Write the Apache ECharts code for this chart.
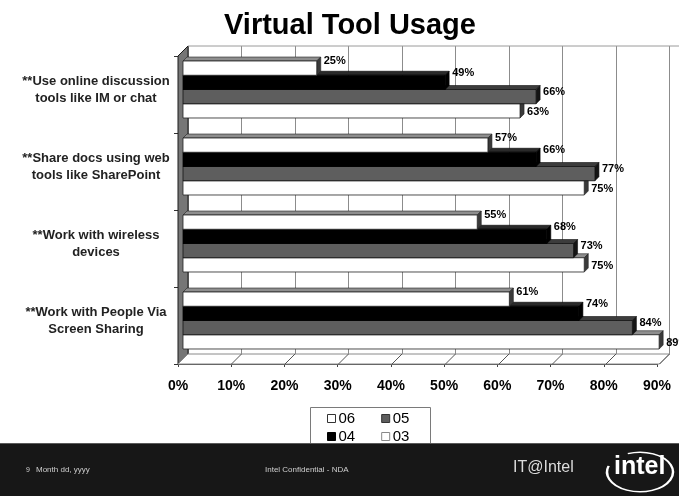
<!DOCTYPE html>
<html>
<head>
<meta charset="utf-8">
<script src="https://cdn.jsdelivr.net/npm/echarts@6/dist/echarts.min.js"></script>
<style>
  html, body { margin: 0; padding: 0; background: #fff; }
  #chart { width: 679px; height: 496px; }
</style>
</head>
<body>
<div id="chart"></div>
<script>
// Survey categories, top to bottom
const categories = [
  '**Use online discussion\ntools like IM or chat',
  '**Share docs using web\ntools like SharePoint',
  '**Work with wireless\ndevices',
  '**Work with People Via\nScreen Sharing'
];
// Survey years (legend order)
const years = ['06', '05', '04', '03'];
// Share of respondents (%) per year
const values06 = [63, 75, 75, 89];
const values05 = [66, 77, 73, 84];
const values04 = [49, 66, 68, 74];
const values03 = [25, 57, 55, 61];
// Value axis ticks (%)
const xTicks = [0, 10, 20, 30, 40, 50, 60, 70, 80, 90];

const FONT = 'Liberation Sans, Arial, sans-serif';
const DEPTH = 4;          // 3D offset of each bar
const WALL = 5;           // half depth of the wall / floor
const BAR_FRACTION = 0.185;

// face colours per year
const faces = {
  '06': { front: '#ffffff', top: '#8e8e8e', side: '#3a3a3a', edge: '#222', legendBorder: '#333', labelDy: 8 },
  '05': { front: '#5e5e5e', top: '#3c3c3c', side: '#151515', edge: '#111', legendBorder: '#333', labelDy: 2 },
  '04': { front: '#000000', top: '#2a2a2a', side: '#000000', edge: '#000', legendBorder: '#000', labelDy: -2 },
  '03': { front: '#ffffff', top: '#8e8e8e', side: '#3a3a3a', edge: '#222', legendBorder: '#888', labelDy: 0 }
};
// vertical slot of each year inside a category (0 = top)
const slots = { '03': 0, '04': 1, '05': 2, '06': 3 };
const seriesValues = { '06': values06, '05': values05, '04': values04, '03': values03 };

function makeBarRenderer(year) {
  const f = faces[year];
  const slot = slots[year];
  return function (params, api) {
    const v = api.value(0);
    const cat = api.value(1);
    const start = api.coord([0, cat]);
    const end = api.coord([v, cat]);
    const band = api.size([0, 1])[1];
    const h = band * BAR_FRACTION;
    const yTop = start[1] - 2 * h + slot * h;
    const x0 = start[0], x1 = end[0], d = DEPTH;
    return {
      type: 'group',
      children: [
        { type: 'polygon',
          shape: { points: [[x0, yTop], [x0 + d, yTop - d], [x1 + d, yTop - d], [x1, yTop]] },
          style: { fill: f.top, stroke: f.edge, lineWidth: 0.6 } },
        { type: 'polygon',
          shape: { points: [[x1, yTop], [x1 + d, yTop - d], [x1 + d, yTop + h - d], [x1, yTop + h]] },
          style: { fill: f.side, stroke: f.edge, lineWidth: 0.6 } },
        { type: 'rect',
          shape: { x: x0, y: yTop, width: x1 - x0, height: h },
          style: { fill: f.front, stroke: f.edge, lineWidth: 0.8 } },
        { type: 'text', z2: 10,
          x: x1 + d + 3, y: yTop + f.labelDy,
          style: { text: v + '%', fill: '#000', fontFamily: FONT, fontWeight: 'bold',
                   fontSize: 11, align: 'left', verticalAlign: 'middle' } }
      ]
    };
  };
}

// left wall, floor and floor grid of the 3D box
function renderBox(params, api) {
  const cs = params.coordSys;
  const top = cs.y, bot = cs.y + cs.height;
  const x0 = api.coord([0, 0])[0];
  const xMax = api.coord([xTicks[xTicks.length - 1], 0])[0];
  const w = WALL;
  const children = [
    { type: 'polygon',
      shape: { points: [[x0 - w, top + w], [x0 + w, top - w], [x0 + w, bot - w], [x0 - w, bot + w]] },
      style: { fill: '#767676', stroke: '#1a1a1a', lineWidth: 1 } },
    { type: 'polygon',
      shape: { points: [[x0 - w, bot + w], [x0 + w, bot - w], [xMax + w, bot - w], [xMax - w, bot + w]] },
      style: { fill: '#ffffff', stroke: '#8a8a8a', lineWidth: 1 } },
    { type: 'line',
      shape: { x1: x0 + w, y1: top - w, x2: cs.x + cs.width + 40, y2: top - w },
      style: { stroke: '#9a9a9a', lineWidth: 1 } }
  ];
  xTicks.slice(1).forEach(function (t) {
    const x = api.coord([t, 0])[0];
    children.push({ type: 'line',
      shape: { x1: x - w, y1: bot + w, x2: x + w, y2: bot - w },
      style: { stroke: '#555', lineWidth: 1 } });
  });
  return { type: 'group', children: children };
}

const chart = echarts.init(document.getElementById('chart'), null, { renderer: 'canvas' });

const barSeries = years.map(function (y) {
  return {
    name: y,
    type: 'custom',
    xAxisIndex: 0, yAxisIndex: 0,
    renderItem: makeBarRenderer(y),
    encode: { x: 0, y: 1 },
    itemStyle: { color: faces[y].front, borderColor: faces[y].legendBorder },
    data: seriesValues[y].map(function (v, i) { return [v, i]; }),
    z: 5
  };
});

const legendItem = function (y) {
  return { name: y, icon: 'rect',
           itemStyle: { color: faces[y].front, borderColor: faces[y].legendBorder, borderWidth: 1 } };
};
const legendCommon = {
  orient: 'horizontal', itemWidth: 8, itemHeight: 8, itemGap: 26, padding: 0,
  selectedMode: false,
  textStyle: { fontFamily: FONT, fontSize: 15, color: '#000', padding: [0, 0, 0, -2] }
};

chart.setOption({
  animation: false,
  backgroundColor: '#ffffff',
  title: {
    text: 'Virtual Tool Usage',
    left: 345, top: 6, textAlign: 'center',
    textStyle: { fontFamily: FONT, fontSize: 29, fontWeight: 'bold', color: '#000' }
  },
  legend: [
    Object.assign({ left: 327, top: 411, data: [legendItem('06'), legendItem('05')] }, legendCommon),
    Object.assign({ left: 327, top: 429, data: [legendItem('04'), legendItem('03')] }, legendCommon)
  ],
  grid: [
    { left: 183, right: 14.5, top: 51, bottom: 137 },   // bar plane
    { left: 188, right: 9.5, top: 46, bottom: 142 },    // back wall
    { left: 178, right: 22, top: 56, bottom: 132 }      // front edge of floor
  ],
  xAxis: [
    { type: 'value', gridIndex: 0, min: 0, max: 90, interval: 10,
      axisLine: { show: false }, axisTick: { show: false }, axisLabel: { show: false },
      splitLine: { show: false } },
    { type: 'value', gridIndex: 1, min: 0, max: 90, interval: 10,
      axisLine: { show: false }, axisTick: { show: false }, axisLabel: { show: false },
      splitLine: { show: true, lineStyle: { color: '#8c8c8c', width: 1 } } },
    { type: 'value', gridIndex: 2, min: 0, max: 90, interval: 10,
      axisLine: { show: true, lineStyle: { color: '#444', width: 1 } },
      axisTick: { show: true, length: 3, lineStyle: { color: '#444' } },
      axisLabel: { show: true, margin: 15, formatter: '{value}%',
                   fontFamily: FONT, fontSize: 14, fontWeight: 'bold', color: '#000' },
      splitLine: { show: false } }
  ],
  yAxis: [
    { type: 'category', gridIndex: 0, data: categories, inverse: true,
      axisLine: { show: false }, axisTick: { show: false },
      axisLabel: { show: true, margin: 87, align: 'center', lineHeight: 17,
                   fontFamily: FONT, fontSize: 13, fontWeight: 'bold', color: '#222' } },
    { type: 'category', gridIndex: 1, data: categories, inverse: true,
      axisLine: { show: false }, axisTick: { show: false }, axisLabel: { show: false } },
    { type: 'category', gridIndex: 2, data: categories, inverse: true,
      axisLine: { show: false },
      axisTick: { show: true, length: 4, lineStyle: { color: '#333' } },
      axisLabel: { show: false } }
  ],
  series: [
    { name: 'box', type: 'custom', xAxisIndex: 0, yAxisIndex: 0,
      renderItem: renderBox, data: [[0, 0]], z: 1, silent: true }
  ].concat(barSeries),
  graphic: [
    { type: 'rect', left: 308, top: 405, z: 50,
      shape: { width: 120, height: 44 },
      style: { fill: 'none', stroke: '#7a7a7a', lineWidth: 1 } },
    { type: 'rect', left: 0, top: 443, z: 60,
      shape: { width: 679, height: 53 },
      style: { fill: '#171717' } },
    { type: 'rect', left: 0, top: 443, z: 61,
      shape: { width: 679, height: 1 },
      style: { fill: '#5a5a5a' } },
    { type: 'text', left: 26, top: 467, z: 62,
      style: { text: '9', fill: '#cfcfcf', fontFamily: FONT, fontSize: 7 } },
    { type: 'text', left: 36, top: 466, z: 62,
      style: { text: 'Month dd, yyyy', fill: '#cfcfcf', fontFamily: FONT, fontSize: 8 } },
    { type: 'text', left: 265, top: 466, z: 62,
      style: { text: 'Intel Confidential - NDA', fill: '#cfcfcf', fontFamily: FONT, fontSize: 8 } },
    { type: 'text', left: 513, top: 460, z: 62,
      style: { text: 'IT@Intel', fill: '#dcdcdc', fontFamily: FONT, fontSize: 16 } },
    { type: 'text', left: 614, top: 455, z: 62,
      style: { text: 'intel', fill: '#ffffff', fontFamily: FONT, fontSize: 25, fontWeight: 'bold' } },
    { type: 'arc', x: 640, y: 472, scaleY: 0.6, z: 62,
      shape: { cx: 0, cy: 0, r: 33, startAngle: Math.PI * 1.38, endAngle: Math.PI * 3.1, clockwise: true },
      style: { stroke: '#ffffff', lineWidth: 2.5, fill: 'none' } }
  ]
});
</script>
</body>
</html>
